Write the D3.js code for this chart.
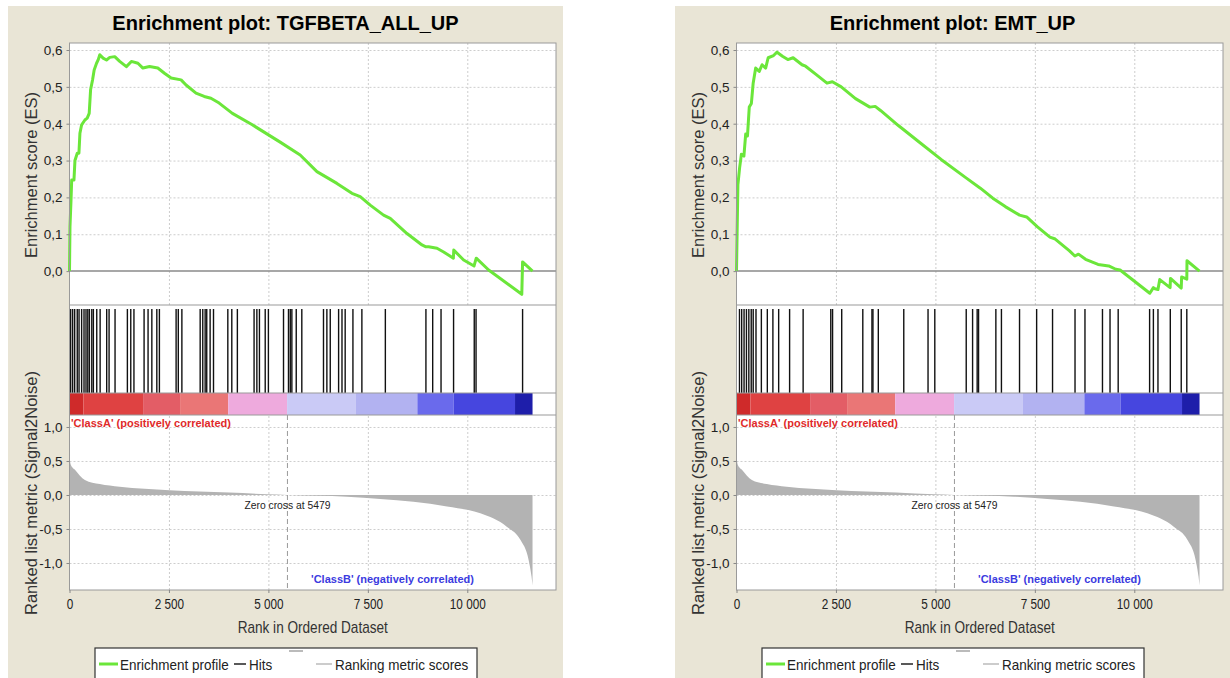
<!DOCTYPE html>
<html><head><meta charset="utf-8">
<script src="https://cdn.jsdelivr.net/npm/d3@7"></script>
<style>
body{margin:0;background:#fff}
svg{display:block}
text{font-family:"Liberation Sans",Arial,sans-serif}
</style>
</head><body>
<svg id="c" width="1230" height="678"></svg>
<script>
// ---------------- data ----------------
const titles = ["Enrichment plot: TGFBETA_ALL_UP", "Enrichment plot: EMT_UP"];
const xTicks = [0, 2500, 5000, 7500, 10000];
const xTickLabels = ["0", "2 500", "5 000", "7 500", "10 000"];
const esTicks = [0, 0.1, 0.2, 0.3, 0.4, 0.5, 0.6];
const esTickLabels = ["0,0", "0,1", "0,2", "0,3", "0,4", "0,5", "0,6"];
const metricTicks = [1, 0.5, 0, -0.5, -1];
const metricTickLabels = ["1,0", "0,5", "0,0", "-0,5", "-1,0"];
const zeroCross = 5479;
const listSize = 11640;

// TGFBETA_ALL_UP running enrichment score
const tgfRanks = [0,12,37,55,112,137,195,237,262,305,387,445,495,530,580,620,680,720,762,845,930,1012,1137,1262,1430,1555,1720,1845,2012,2220,2387,2555,2805,2930,3180,3387,3555,3762,4095,4595,5296,5799,6220,6723,7100,7308,7560,7895,8063,8484,8861,8960,9027,9239,9405,9650,9660,9908,10170,10225,10537,11370,11390,11640];
const tgfES    = [0,0.12,0.19,0.247,0.247,0.30,0.32,0.32,0.374,0.397,0.41,0.415,0.428,0.492,0.519,0.546,0.564,0.573,0.587,0.578,0.573,0.58,0.582,0.569,0.555,0.569,0.564,0.551,0.555,0.551,0.537,0.524,0.519,0.505,0.483,0.474,0.469,0.456,0.428,0.397,0.35,0.315,0.27,0.238,0.211,0.202,0.179,0.152,0.143,0.102,0.071,0.066,0.066,0.062,0.052,0.035,0.057,0.03,0.014,0.035,0.003,-0.063,0.025,0.0];
const tgfHits = [30,80,130,195,240,305,365,415,460,500,560,600,685,770,935,995,1145,1455,1540,1620,1875,1975,2070,2195,2260,2680,2735,2825,3285,3350,3410,3450,3535,3620,3980,4080,4220,4640,4710,4775,4920,5000,5380,5505,5550,5590,5700,5840,6385,6470,6555,6765,6850,6930,7125,7350,7940,8960,9130,9340,9655,10175,10220,11390];

// EMT_UP running enrichment score
const emtRanks = [0,35,78,123,186,231,276,321,374,419,482,572,643,733,796,931,1019,1155,1290,1423,1647,1737,2006,2275,2410,2633,2992,3351,3487,3620,4069,4606,5143,5771,6130,6443,6757,7116,7294,7566,7879,8012,8371,8506,8597,8775,9089,9357,9536,9643,10390,10480,10520,10595,10640,10900,10910,11180,11190,11320,11325,11640];
const emtES    = [0,0.234,0.28,0.317,0.312,0.372,0.367,0.445,0.455,0.51,0.551,0.542,0.56,0.551,0.579,0.585,0.594,0.583,0.574,0.579,0.56,0.556,0.533,0.51,0.514,0.5,0.468,0.445,0.447,0.436,0.395,0.349,0.303,0.253,0.225,0.198,0.175,0.152,0.147,0.12,0.092,0.087,0.055,0.041,0.046,0.032,0.018,0.014,0.005,0.003,-0.06,-0.045,-0.048,-0.05,-0.023,-0.045,-0.02,-0.046,-0.016,-0.022,0.028,0.0];
const emtHits = [75,130,190,250,310,370,420,490,625,775,915,1060,1335,1675,2370,2415,2645,3175,3405,3430,3565,4205,4815,4985,5775,5935,6050,6085,6520,6660,7115,7545,7945,8510,8760,9200,9390,9595,10385,10480,10595,10905,11180,11320];

// ranked list metric (Signal2Noise), shared by both plots
const metricRanks  = [0,30,137,387,762,1262,2512,4012,4962,5479,6975,7812,8645,9490,10328,11000,11334,11543,11615,11640];
const metricValues = [0.55,0.45,0.37,0.22,0.16,0.12,0.07,0.035,0.01,0,-0.025,-0.06,-0.1,-0.17,-0.27,-0.47,-0.66,-0.96,-1.2,-1.33];

// colour bar under the hits
const bandStarts = [0,350,1850,2780,3990,5470,7200,8745,9660,11200];
const bandColors = ["#cf2a2a","#df4242","#e35d66","#ea7676","#eeaadd","#cacaf6","#b2b2f1","#6a6aec","#4646df","#1e1eaa"];

const legendLabels = ["Enrichment profile", "Hits", "Ranking metric scores"];

// ---------------- drawing ----------------
const svg = d3.select("#c");
const GREEN = "#6be63a";

function txt(g, x, y, s, size, o = {}) {
  const t = g.append("text")
    .attr("transform", `translate(${x},${y})` + (o.rot ? ` rotate(${o.rot})` : "") + ` scale(${o.sx || 1},1)`)
    .attr("font-size", size)
    .attr("fill", o.fill || "#222")
    .attr("text-anchor", o.anchor || "start")
    .text(s);
  if (o.bold) t.attr("font-weight", "bold");
  return t;
}

function panel(ox, title, esR, esV, hits) {
  const g = svg.append("g").attr("transform", `translate(${ox},0)`);
  g.append("rect").attr("x", 8).attr("y", 6).attr("width", 555).attr("height", 700).attr("fill", "#e9e5d6");

  const L = 69.5, R = 556;
  const x = d3.scaleLinear().domain([0, 12230]).range([L, R]);
  const yES = d3.scaleLinear().domain([-0.092, 0.619]).range([305, 43]);
  const yM = d3.scaleLinear().domain([-1.397, 1.176]).range([590, 415]);

  g.append("rect").attr("x", L).attr("y", 43).attr("width", R - L).attr("height", 547).attr("fill", "#fff");

  // grids
  const gridStyle = sel => {
    sel.select(".domain").remove();
    sel.selectAll(".tick line").attr("stroke", "#cdcdcd").attr("stroke-dasharray", "2,2");
    sel.selectAll("text").remove();
  };
  g.append("g").attr("transform", `translate(${L},0)`)
    .call(d3.axisLeft(yES).tickValues(esTicks.filter(d => d !== 0)).tickSize(-(R - L)))
    .call(gridStyle);
  g.append("g").attr("transform", `translate(0,305)`)
    .call(d3.axisBottom(x).tickValues(xTicks.filter(d => d !== 0)).tickSize(-(305 - 43)))
    .call(gridStyle);
  g.append("g").attr("transform", `translate(${L},0)`)
    .call(d3.axisLeft(yM).tickValues(metricTicks).tickSize(-(R - L)))
    .call(gridStyle);
  g.append("g").attr("transform", `translate(0,590)`)
    .call(d3.axisBottom(x).tickValues(xTicks.filter(d => d !== 0)).tickSize(-(590 - 415)))
    .call(gridStyle);

  // metric area
  const mData = metricRanks.map((r, i) => [r, metricValues[i]]);
  g.append("path").datum(mData)
    .attr("d", d3.area().x(d => x(d[0])).y0(yM(0)).y1(d => yM(d[1])).curve(d3.curveMonotoneX))
    .attr("fill", "#b3b3b3");

  // zero-cross dashed line
  g.append("line").attr("x1", x(zeroCross)).attr("x2", x(zeroCross)).attr("y1", 415).attr("y2", 590)
    .attr("stroke", "#9a9a9a").attr("stroke-dasharray", "5,3");

  // colour bar
  g.selectAll(".band").data(bandStarts).enter().append("rect")
    .attr("x", d => x(d))
    .attr("width", (d, i) => x(i + 1 < bandStarts.length ? bandStarts[i + 1] : listSize) - x(d))
    .attr("y", 393).attr("height", 22)
    .attr("fill", (d, i) => bandColors[i]);

  // hits
  g.selectAll(".hit").data(hits).enter().append("line")
    .attr("x1", d => x(d)).attr("x2", d => x(d)).attr("y1", 309).attr("y2", 393)
    .attr("stroke", "#111").attr("stroke-width", 1.4);

  // ES zero line
  g.append("line").attr("x1", L).attr("x2", R).attr("y1", yES(0)).attr("y2", yES(0))
    .attr("stroke", "#8a8a8a").attr("stroke-width", 1.5);

  // ES curve
  const eData = esR.map((r, i) => [r, esV[i]]);
  g.append("path").datum(eData)
    .attr("d", d3.line().x(d => x(d[0])).y(d => yES(d[1])))
    .attr("fill", "none").attr("stroke", GREEN).attr("stroke-width", 3).attr("stroke-linejoin", "round");

  // frame and separators
  g.append("rect").attr("x", L).attr("y", 43).attr("width", R - L).attr("height", 547)
    .attr("fill", "none").attr("stroke", "#9a9a9a");
  [305, 393, 415].forEach(yy => g.append("line").attr("x1", L).attr("x2", R).attr("y1", yy).attr("y2", yy)
    .attr("stroke", "#9a9a9a").attr("stroke-width", 1.2));

  // axes
  const axStyle = sel => {
    sel.select(".domain").remove();
    sel.selectAll(".tick line").attr("stroke", "#888");
    sel.selectAll("text").attr("fill", "#222").attr("font-family", "Liberation Sans, Arial, sans-serif");
  };
  g.append("g").attr("transform", `translate(${L},0)`)
    .call(d3.axisLeft(yES).tickValues(esTicks).tickFormat((d, i) => esTickLabels[i]).tickSize(3).tickPadding(4))
    .call(axStyle).selectAll("text").attr("font-size", 13.5);
  g.append("g").attr("transform", `translate(${L},0)`)
    .call(d3.axisLeft(yM).tickValues(metricTicks).tickFormat((d, i) => metricTickLabels[i]).tickSize(3).tickPadding(4))
    .call(axStyle).selectAll("text").attr("font-size", 13.5);
  g.append("g").attr("transform", `translate(0,590)`)
    .call(d3.axisBottom(x).tickValues(xTicks).tickFormat((d, i) => xTickLabels[i]).tickSize(3).tickPadding(6))
    .call(axStyle).selectAll("text").attr("font-size", 14).attr("transform", "scale(0.84,1)");

  // labels
  txt(g, 285.5, 30, title, 20, { bold: true, anchor: "middle", fill: "#000" });
  txt(g, 37, 175, "Enrichment score (ES)", 16.5, { rot: -90, anchor: "middle", fill: "#333" });
  txt(g, 37, 493, "Ranked list metric (Signal2Noise)", 16.5, { rot: -90, anchor: "middle", fill: "#333" });
  txt(g, (L + R) / 2, 633, "Rank in Ordered Dataset", 16, { anchor: "middle", sx: 0.85, fill: "#333" });
  txt(g, 71, 427, "'ClassA' (positively correlated)", 11, { bold: true, fill: "#e02a2a" });
  txt(g, 474, 583, "'ClassB' (negatively correlated)", 11, { bold: true, fill: "#3b3be0", anchor: "end" });
  txt(g, x(zeroCross), 509, "Zero cross at " + zeroCross, 11, { anchor: "middle", sx: 0.94, fill: "#222" });

  // legend
  const lg = g.append("g");
  lg.append("rect").attr("x", 95).attr("y", 648).attr("width", 382).attr("height", 60)
    .attr("fill", "#fff").attr("stroke", "#333").attr("stroke-width", 1.2);
  lg.append("line").attr("x1", 99).attr("x2", 118).attr("y1", 664).attr("y2", 664).attr("stroke", GREEN).attr("stroke-width", 3);
  txt(lg, 120, 670, legendLabels[0], 15, { sx: 0.9, fill: "#222" });
  lg.append("line").attr("x1", 234).attr("x2", 246).attr("y1", 664).attr("y2", 664).attr("stroke", "#222").attr("stroke-width", 1.5);
  txt(lg, 249, 670, legendLabels[1], 15, { sx: 0.9, fill: "#222" });
  lg.append("line").attr("x1", 289).attr("x2", 303).attr("y1", 651).attr("y2", 651).attr("stroke", "#bbb").attr("stroke-width", 2);
  lg.append("line").attr("x1", 316).attr("x2", 332).attr("y1", 664).attr("y2", 664).attr("stroke", "#bbb").attr("stroke-width", 1.5);
  txt(lg, 335, 670, legendLabels[2], 15, { sx: 0.9, fill: "#222" });
}

panel(0, titles[0], tgfRanks, tgfES, tgfHits);
panel(667, titles[1], emtRanks, emtES, emtHits);
</script>
</body></html>
